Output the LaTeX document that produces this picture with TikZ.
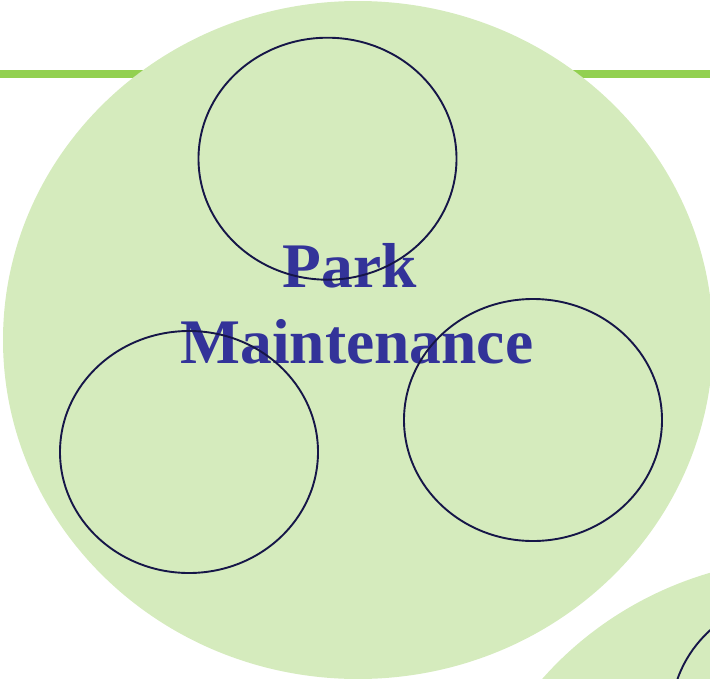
\documentclass[tikz,border=0pt]{standalone}
\usepackage{fontspec}
\setmainfont{Liberation Serif}
\definecolor{barGreen}{RGB}{146,208,80}
\definecolor{softGreen}{RGB}{213,235,189}
\definecolor{ringNavy}{RGB}{22,22,72}
\definecolor{titleBlue}{RGB}{51,51,153}
\begin{document}
\begin{tikzpicture}[
		x=1pt, y=-1pt,
		disc/.style={
			fill=softGreen,
			draw=none
		},
		ring/.style={
			draw=ringNavy,
			line width=1.9pt
		},
		title/.style={
			anchor=base,
			inner sep=0pt,
			text=titleBlue,
			font=\fontsize{63.5}{76}\selectfont\bfseries
		}
		]
		
		\useasboundingbox (0,0) rectangle (710,678);
		
		% Top bar
		\draw[barGreen, line width=8pt] (0,74) -- (710,74);
		
		% Large discs
		\fill[disc] (358,340) ellipse [x radius=355, y radius=339];
		\fill[disc] (814,897) ellipse [x radius=355, y radius=339];
		
		% Title
		\node[title] (park) at (350,287) {Park};
		\node[title] (maint) at (357,363) {Maintenance};
		
		% Rings
		\draw[ring] (327.5,158.7) ellipse [x radius=129, y radius=121];
		\draw[ring] (189,452) ellipse [x radius=129, y radius=121];
		\draw[ring] (533,420) ellipse [x radius=129, y radius=121];
		\draw[ring] (800,717) ellipse [x radius=129, y radius=121];
		
	\end{tikzpicture}
\end{document}
